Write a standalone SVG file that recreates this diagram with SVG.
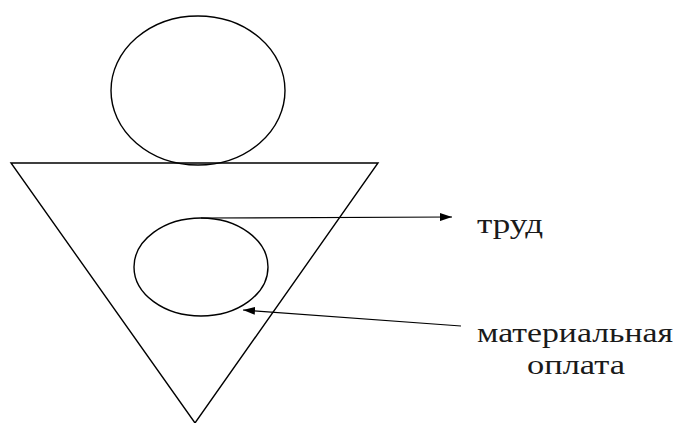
<svg xmlns="http://www.w3.org/2000/svg" width="677" height="423" viewBox="0 0 677 423">
<style>
.s{fill:none;stroke:#000;stroke-width:1.4}
.c{fill:none;stroke:#000;stroke-width:1.2}
.t{font-family:"Liberation Serif","DejaVu Serif","Times New Roman",serif;font-size:28px;fill:#1a1a1a}
</style>
<defs>
<marker id="ah" markerWidth="12" markerHeight="8" refX="12" refY="4" orient="auto" markerUnits="userSpaceOnUse">
<path d="M0,0 L12,4 L0,8 Z" fill="#000"/>
</marker>
</defs>
<rect width="677" height="423" fill="#fff"/>
<g id="head"><ellipse class="s" cx="198" cy="90.5" rx="87" ry="74.5"/></g>
<g id="triangle"><polygon class="s" points="11,163 378,163 195,423"/></g>
<g id="inner"><ellipse class="s" cx="201" cy="267" rx="67" ry="49"/></g>
<g id="connectors">
<path class="c" d="M201,218 L452,217" marker-end="url(#ah)"/>
<path class="c" d="M461,326 L243,310" marker-end="url(#ah)"/>
</g>
<g id="label-trud"><text class="t" x="477" y="233" textLength="66" lengthAdjust="spacingAndGlyphs">труд</text></g>
<g id="label-oplata">
<text class="t" x="575" y="342" text-anchor="middle" textLength="196" lengthAdjust="spacingAndGlyphs">материальная</text>
<text class="t" x="576" y="374" text-anchor="middle" textLength="98" lengthAdjust="spacingAndGlyphs">оплата</text>
</g>
</svg>
